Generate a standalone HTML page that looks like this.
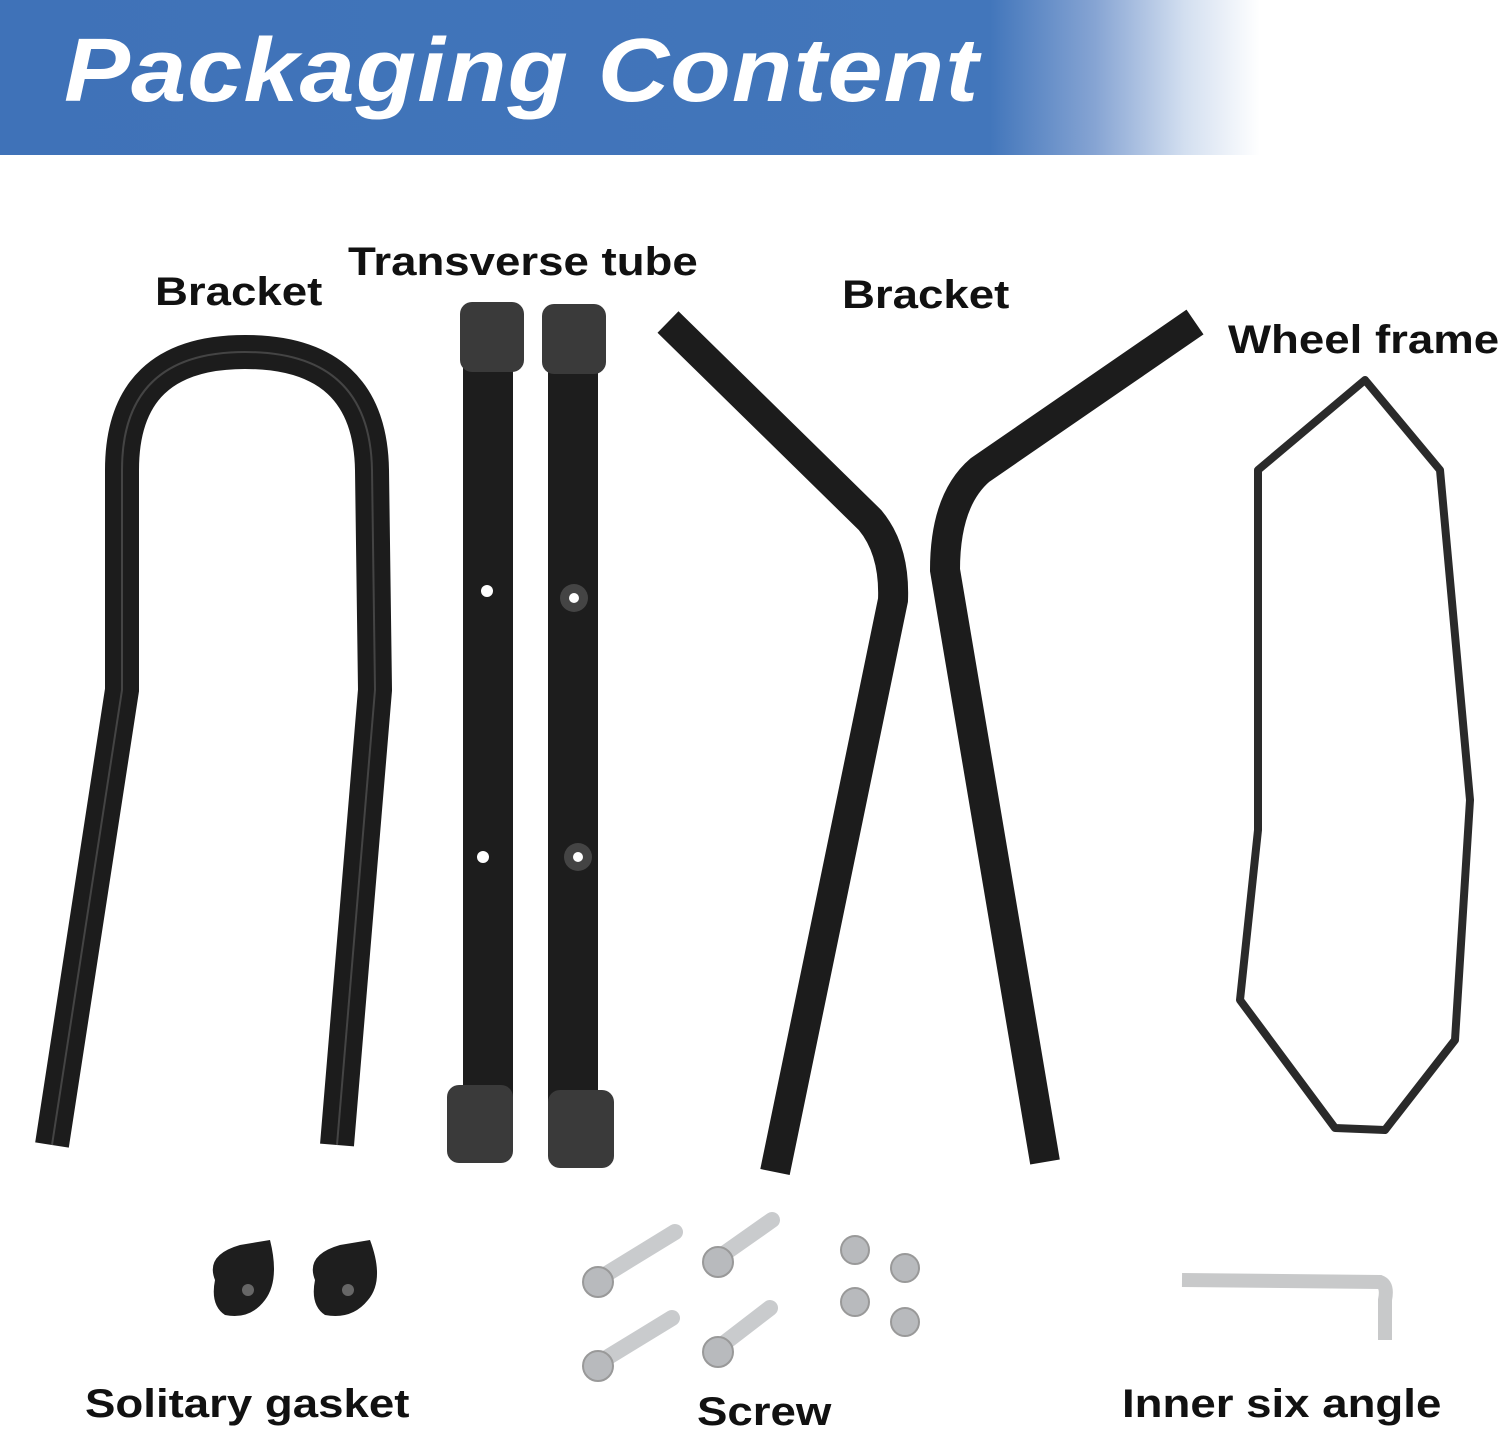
<!DOCTYPE html>
<html><head><meta charset="utf-8"><style>
html,body{margin:0;padding:0;background:#fff;}
#w{position:relative;width:1500px;height:1433px;overflow:hidden;font-family:"Liberation Sans",sans-serif;}
.hdr{position:absolute;left:0;top:0;width:1500px;height:155px;background:linear-gradient(90deg,#3f72b8 0%,#4276bb 66%,#86a4d3 73%,#d3dff0 79%,#fff 84%);}
.ttl{position:absolute;left:64px;top:20px;font-size:90px;font-weight:bold;font-style:italic;color:#fff;letter-spacing:1px;transform:scaleX(1.10);transform-origin:left top;}
.lb{position:absolute;font-size:40px;font-weight:bold;color:#111;white-space:nowrap;transform:scaleX(1.14);transform-origin:left top;}
svg{position:absolute;left:0;top:0;}
</style></head><body><div id="w">
<div class="hdr"></div>
<div class="ttl">Packaging Content</div>
<svg width="1500" height="1433">
<g fill="none" stroke="#1c1c1c" stroke-width="34" stroke-linecap="butt">
<path d="M52 1145 L122 690 L122 470 Q122 352 245 352 Q370 352 372 470 L375 690 L337 1145"/>
</g>
<g fill="none" stroke="#1c1c1c" stroke-width="30" stroke-linecap="butt">
<path d="M668 322 L870 520 Q895 550 893 600 L775 1172"/>
<path d="M1195 322 L980 470 Q945 500 945 570 L1045 1162"/>
</g>
<path d="M52 1145 L122 690 L122 470 Q122 352 245 352 Q370 352 372 470 L375 690 L337 1145" fill="none" stroke="#444" stroke-width="2"/>
<rect x="463" y="340" width="50" height="770" fill="#1d1d1d"/>
<rect x="548" y="340" width="50" height="770" fill="#1d1d1d"/>
<rect x="460" y="302" width="64" height="70" rx="12" fill="#3a3a3a"/>
<rect x="542" y="304" width="64" height="70" rx="12" fill="#3a3a3a"/>
<rect x="447" y="1085" width="66" height="78" rx="12" fill="#3a3a3a"/>
<rect x="548" y="1090" width="66" height="78" rx="12" fill="#3a3a3a"/>
<circle cx="487" cy="591" r="6" fill="#fff"/><circle cx="483" cy="857" r="6" fill="#fff"/>
<circle cx="574" cy="598" r="14" fill="#444"/><circle cx="574" cy="598" r="5" fill="#fff"/>
<circle cx="578" cy="857" r="14" fill="#444"/><circle cx="578" cy="857" r="5" fill="#fff"/>
<polygon points="1365,380 1440,470 1470,800 1455,1040 1385,1130 1335,1128 1240,1000 1258,830 1258,470" fill="none" stroke="#2a2a2a" stroke-width="8" stroke-linejoin="round"/>
<path d="M215 1280 Q205 1255 240 1245 L270 1240 Q280 1280 265 1300 Q250 1320 225 1315 Q210 1305 215 1280Z" fill="#1e1e1e"/>
<path d="M315 1280 Q305 1255 340 1245 L370 1240 Q385 1280 368 1300 Q352 1320 325 1315 Q310 1305 315 1280Z" fill="#1e1e1e"/>
<circle cx="248" cy="1290" r="6" fill="#666"/><circle cx="348" cy="1290" r="6" fill="#666"/>
<g stroke="#c9cbcd" stroke-width="16" stroke-linecap="round">
<line x1="600" y1="1278" x2="675" y2="1232"/><line x1="600" y1="1362" x2="672" y2="1318"/>
<line x1="718" y1="1258" x2="772" y2="1220"/><line x1="718" y1="1348" x2="770" y2="1308"/>
</g>
<g fill="#b8babd" stroke="#999" stroke-width="2">
<circle cx="598" cy="1282" r="15"/><circle cx="598" cy="1366" r="15"/>
<circle cx="718" cy="1262" r="15"/><circle cx="718" cy="1352" r="15"/>
<circle cx="855" cy="1250" r="14"/><circle cx="905" cy="1268" r="14"/>
<circle cx="855" cy="1302" r="14"/><circle cx="905" cy="1322" r="14"/>
</g>
<path d="M1182 1280 L1380 1282 Q1388 1285 1385 1300 L1385 1340" fill="none" stroke="#c8c9ca" stroke-width="14"/>
</svg>
<div class="lb" style="left:155px;top:270px;">Bracket</div>
<div class="lb" style="left:348px;top:240px;">Transverse tube</div>
<div class="lb" style="left:842px;top:273px;">Bracket</div>
<div class="lb" style="left:1228px;top:318px;">Wheel frame</div>
<div class="lb" style="left:85px;top:1382px;">Solitary gasket</div>
<div class="lb" style="left:697px;top:1390px;">Screw</div>
<div class="lb" style="left:1122px;top:1382px;">Inner six angle</div>
</div></body></html>
